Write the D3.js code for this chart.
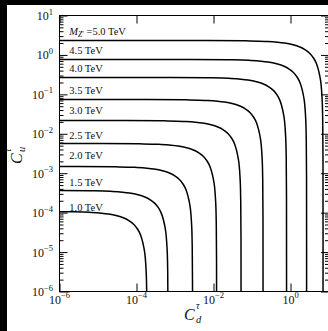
<!DOCTYPE html>
<html>
<head>
<meta charset="utf-8">
<script src="https://cdn.jsdelivr.net/npm/d3@7"></script>
<style>
html, body { margin: 0; padding: 0; background: #000; }
svg { display: block; }
text { font-family: "Liberation Serif", "DejaVu Serif", serif; fill: #111; }
</style>
</head>
<body>
<svg id="chart" width="328" height="331"></svg>
<script>
"use strict";

// Z' masses, one contour each
const masses = ["1.0", "1.5", "2.0", "2.5", "3.0", "3.5", "4.0", "4.5", "5.0"];
// plateau of each contour in C_u (left side) and in C_d (bottom side)
const cuPlateau = [1.07e-4, 3.65e-4, 1.48e-3, 5.67e-3, 0.0217, 0.074, 0.268, 0.766, 2.32];
const cdPlateau = [1.87e-4, 6.57e-4, 2.85e-3, 0.0120, 0.0518, 0.193, 0.787, 2.61, 6.98];
// corner profile, in decades from the two plateaus
const cornerDx = [-8, -3, -2, -1.5, -1, -0.6, -0.45, -0.334, -0.242, -0.164, -0.065, -0.022, -0.008, 0, 0];
const cornerDy = [0, 0, -0.008, -0.022, -0.065, -0.164, -0.242, -0.334, -0.45, -0.6, -1, -1.5, -2, -3, -8];
// where the mass labels sit
const labelCd = 1.8e-6;
const labelCu = [1.10e-4, 4.74e-4, 2.33e-3, 7.37e-3, 0.0317, 0.102, 0.369, 1.06, 3.11];
// tick exponents
const xTickExp = [-6, -4, -2, 0];
const yTickExp = [1, 0, -1, -2, -3, -4, -5, -6];

const svg = d3.select("#chart");
const plotL = 59.5, plotR = 329, plotT = 15.5, plotB = 291.5;

const x = d3.scaleLog().domain([1e-6, 10]).range([plotL, plotR]);
const y = d3.scaleLog().domain([1e-6, 10]).range([plotB, plotT]);

// white figure area (the image is cropped, black shows at left and top)
svg.append("rect").attr("x", 7).attr("y", 5).attr("width", 321).attr("height", 326).attr("fill", "#fff");

svg.append("clipPath").attr("id", "plot")
	.append("rect").attr("x", plotL).attr("y", plotT).attr("width", plotR - plotL).attr("height", plotB - plotT);

// contours
const line = d3.line()
	.x(d => x(d[0]))
	.y(d => y(d[1]))
	.curve(d3.curveCatmullRom.alpha(0.5));

const curves = masses.map((m, i) => cornerDx.map((dx, j) =>
	[cdPlateau[i] * Math.pow(10, dx), cuPlateau[i] * Math.pow(10, cornerDy[j])]));

svg.append("g").attr("clip-path", "url(#plot)")
	.selectAll("path")
	.data(curves)
	.enter()
	.append("path")
	.attr("d", line)
	.attr("fill", "none")
	.attr("stroke", "#000")
	.attr("stroke-width", 1.5);

// mass labels
const labels = svg.append("g").attr("font-size", 10.5);
masses.forEach((m, i) => {
	const t = labels.append("text").attr("x", x(labelCd)).attr("y", y(labelCu[i]));
	if (i === masses.length - 1) {
		t.append("tspan").attr("font-style", "italic").text("M");
		t.append("tspan").attr("font-style", "italic").attr("font-size", 7.5).attr("dy", 2).text("Z");
		t.append("tspan").attr("font-size", 7.5).text("′");
		t.append("tspan").attr("dy", -2).text(" =" + m + " TeV");
	} else {
		t.text(m + " TeV");
	}
});

// ticks, all pointing inward
const decades = d3.range(-6, 2).map(e => Math.pow(10, e));
const minors = [];
d3.range(-6, 1).forEach(e => d3.range(2, 10).forEach(k => minors.push(k * Math.pow(10, e))));
const xMajors = xTickExp.map(e => Math.pow(10, e));

const addAxis = (axis, tx, ty) => {
	const g = svg.append("g").attr("transform", `translate(${tx},${ty})`).call(axis);
	g.select(".domain").remove();
	g.selectAll("text").remove();
	g.selectAll("line").attr("stroke", "#000").attr("stroke-width", 1);
};

addAxis(d3.axisLeft(y).tickValues(decades).tickSize(-8), plotL, 0);
addAxis(d3.axisLeft(y).tickValues(minors).tickSize(-4), plotL, 0);
addAxis(d3.axisRight(y).tickValues(decades).tickSize(-8), plotR, 0);
addAxis(d3.axisRight(y).tickValues(minors).tickSize(-4), plotR, 0);
addAxis(d3.axisBottom(x).tickValues(xMajors).tickSize(-8), 0, plotB);
addAxis(d3.axisTop(x).tickValues(xMajors).tickSize(-8), 0, plotT);

// frame
svg.append("rect")
	.attr("x", plotL).attr("y", plotT).attr("width", plotR - plotL).attr("height", plotB - plotT)
	.attr("fill", "none").attr("stroke", "#000").attr("stroke-width", 1);

// tick labels 10^n
const power = (g, e, px, py, anchor) => {
	const t = g.append("text").attr("x", px).attr("y", py).attr("text-anchor", anchor);
	t.append("tspan").text("10");
	t.append("tspan").attr("font-size", 8.5).attr("dy", -5.5).text(e < 0 ? "−" + (-e) : String(e));
};
const tickLabels = svg.append("g").attr("font-size", 12);
xTickExp.forEach(e => power(tickLabels, e, x(Math.pow(10, e)), 303.5, "middle"));
yTickExp.forEach(e => power(tickLabels, e, 53, y(Math.pow(10, e)) + 4.5, "end"));

// axis titles
const xt = svg.append("g").attr("transform", "translate(184,320)");
xt.append("text").attr("font-style", "italic").attr("font-size", 16).text("C");
xt.append("text").attr("font-style", "italic").attr("font-size", 10).attr("x", 12).attr("y", -11).text("τ");
xt.append("text").attr("font-style", "italic").attr("font-size", 10.5).attr("x", 12).attr("y", 3).text("d");

const yt = svg.append("g").attr("transform", "translate(22,164) rotate(-90)");
yt.append("text").attr("font-style", "italic").attr("font-size", 16).text("C");
yt.append("text").attr("font-style", "italic").attr("font-size", 10).attr("x", 12).attr("y", -11).text("τ");
yt.append("text").attr("font-style", "italic").attr("font-size", 10.5).attr("x", 12).attr("y", 3).text("u");
</script>
</body>
</html>
